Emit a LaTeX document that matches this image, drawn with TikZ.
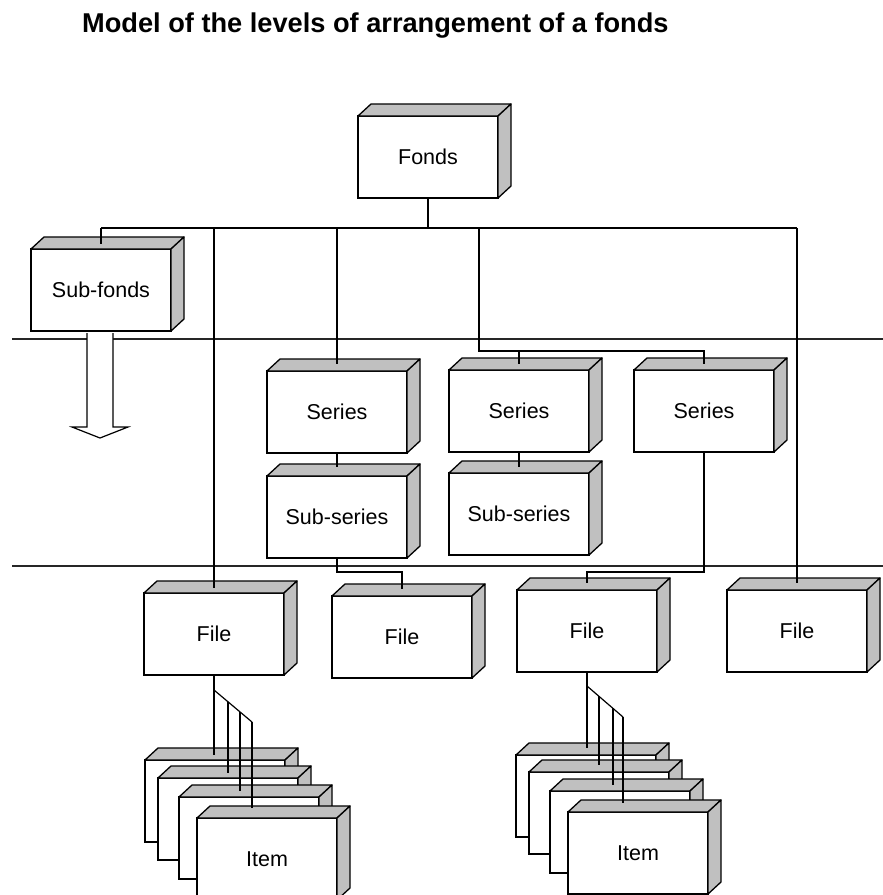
\documentclass[tikz,border=0pt]{standalone}
\usepackage{fontspec}
\setmainfont{Liberation Sans}
\usetikzlibrary{calc}
\definecolor{facegray}{RGB}{192,192,192}
\newcommand\boxfaces[1]{%
  \filldraw[boxline,fill=facegray] (#1.north west) -- ([shift={(13,-12)}]#1.north west) -- ([shift={(13,-12)}]#1.north east) -- (#1.north east) -- cycle;
  \filldraw[boxline,fill=facegray] (#1.north east) -- ([shift={(13,-12)}]#1.north east) -- ([shift={(13,-12)}]#1.south east) -- (#1.south east) -- cycle;}
\newcommand\cubenode[4]{%
  \node[cubebox] (#1) at (#2,#3) {#4};
  \boxfaces{#1}}
\begin{document}
\begin{tikzpicture}[x=1pt,y=-1pt,
  cubebox/.style={draw, line width=1.3pt, fill=white, anchor=north west,
    minimum width=140pt, minimum height=82pt, inner sep=0pt, outer sep=0pt,
    font=\fontsize{21.5}{25}\selectfont},
  boxline/.style={line width=1.3pt, line join=round},
  conn/.style={line width=1.2pt},
  sepline/.style={line width=1.2pt, draw=black!85}]
\useasboundingbox (0,0) rectangle (883,895);
\clip (0,0) rectangle (883,895);
\fill[white] (0,0) rectangle (883,895);

% title
\node[anchor=base west, inner sep=0pt, font=\bfseries\fontsize{27.2}{31}\selectfont] (title) at (82,32) {Model of the levels of arrangement of a fonds};

% level separators
\coordinate (s1l) at (12,339); \coordinate (s1r) at (883,339);
\coordinate (s2l) at (12,566); \coordinate (s2r) at (883,566);
\draw[sepline] (s1l) -- (s1r);
\draw[sepline] (s2l) -- (s2r);

% boxes
\cubenode{fonds}{358}{116}{Fonds}
\cubenode{subfonds}{31}{249}{Sub-fonds}
\cubenode{series1}{267}{371}{Series}
\cubenode{series2}{449}{370}{Series}
\cubenode{series3}{634}{370}{Series}
\cubenode{subseries1}{267}{476}{Sub-series}
\cubenode{subseries2}{449}{473}{Sub-series}
\cubenode{file1}{144}{593}{File}
\cubenode{file2}{332}{596}{File}
\cubenode{file3}{517}{590}{File}
\cubenode{file4}{727}{590}{File}

% item stack 1
\cubenode{itemAa}{145}{760}{}
\cubenode{itemAb}{158}{778}{}
\cubenode{itemAc}{179}{797}{}
\cubenode{itemAd}{197}{818}{Item}
% item stack 2
\cubenode{itemBa}{516}{755}{}
\cubenode{itemBb}{529}{772}{}
\cubenode{itemBc}{550}{791}{}
\cubenode{itemBd}{568}{812}{Item}

% connectors: fonds level
\coordinate (busY) at (0,228);
\coordinate (tap) at (479,228);
\coordinate (sbus) at (479,351);
\draw[conn] (fonds.south) -- (fonds.south |- busY);
\draw[conn] (subfonds.north |- busY) -- (file4.north |- busY);
\draw[conn] (subfonds.north |- busY) -- ([yshift=5pt]subfonds.north);
\draw[conn] (file1.north |- busY) -- ([yshift=5pt]file1.north);
\draw[conn] (series1.north |- busY) -- ([yshift=7pt]series1.north);
\draw[conn] (tap) -- (sbus) -- (series3.north |- sbus) -- ([yshift=6pt]series3.north);
\draw[conn] (series2.north |- sbus) -- ([yshift=6pt]series2.north);
\draw[conn] (file4.north |- busY) -- ([yshift=7pt]file4.north);

% series to sub-series
\draw[conn] (series1.south) -- ([yshift=9pt]subseries1.north);
\draw[conn] (series2.south) -- ([yshift=6pt]subseries2.north);

% to files
\coordinate (fbusY) at (0,572);
\draw[conn] (subseries1.south) -- (subseries1.south |- fbusY) -- (file2.north |- fbusY) -- ([yshift=7pt]file2.north);
\draw[conn] (series3.south) -- (series3.south |- fbusY) -- (file3.north |- fbusY) -- ([yshift=7pt]file3.north);

% file 1 to items
\coordinate (d1a) at ($(file1.south)+(0,15)$);
\coordinate (d1b) at (252,722);
\coordinate (v1b) at ($(d1a)!0.368!(d1b)$);
\coordinate (v1c) at ($(d1a)!0.684!(d1b)$);
\coordinate (tAa) at ($(itemAa.north)+(0,-5)$);
\coordinate (tAb) at ($(itemAb.north)+(0,-5)$);
\coordinate (tAc) at ($(itemAc.north)+(0,-6)$);
\coordinate (tAd) at ($(itemAd.north)+(0,-10)$);
\draw[conn] (file1.south) -- (file1.south |- tAa);
\draw[conn] (d1a) -- (d1b);
\draw[conn] (v1b) -- (v1b |- tAb);
\draw[conn] (v1c) -- (v1c |- tAc);
\draw[conn] (d1b) -- (d1b |- tAd);

% file 3 to items
\coordinate (d2a) at ($(file3.south)+(0,14)$);
\coordinate (d2b) at (623,717);
\coordinate (v2b) at ($(d2a)!0.333!(d2b)$);
\coordinate (v2c) at ($(d2a)!0.722!(d2b)$);
\coordinate (tBa) at ($(itemBa.north)+(0,-7)$);
\coordinate (tBb) at ($(itemBb.north)+(0,-7)$);
\coordinate (tBc) at ($(itemBc.north)+(0,-6)$);
\coordinate (tBd) at ($(itemBd.north)+(0,-9)$);
\draw[conn] (file3.south) -- (file3.south |- tBa);
\draw[conn] (d2a) -- (d2b);
\draw[conn] (v2b) -- (v2b |- tBb);
\draw[conn] (v2c) -- (v2c |- tBc);
\draw[conn] (d2b) -- (d2b |- tBd);

% hollow arrow below sub-fonds
\path[conn, draw, fill=white, line join=miter]
  ($(subfonds.south)+(-14,2)$) -- ($(subfonds.south)+(-14,96)$) -- ($(subfonds.south)+(-29,96)$)
  -- ($(subfonds.south)+(-1,107)$) -- ($(subfonds.south)+(27,96)$) -- ($(subfonds.south)+(12,96)$)
  -- ($(subfonds.south)+(12,2)$);
\end{tikzpicture}
\end{document}
